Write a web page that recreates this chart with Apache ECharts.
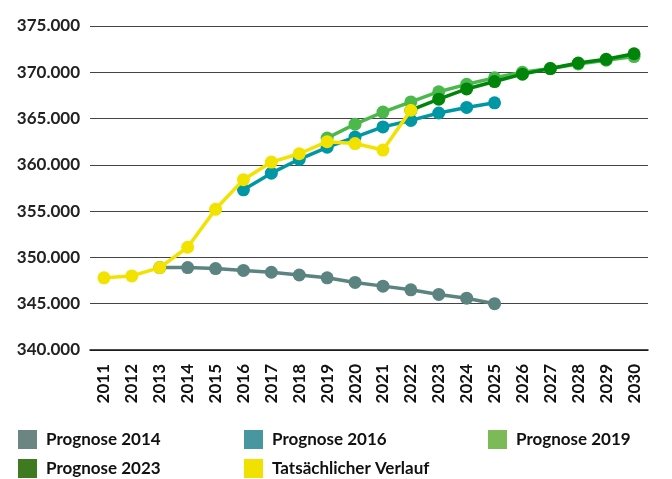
<!DOCTYPE html>
<html>
<head>
<meta charset="utf-8">
<script src="https://cdn.jsdelivr.net/npm/echarts@6/dist/echarts.min.js"></script>
<style>
  html, body { margin: 0; padding: 0; background: #fff; }
  #chart { width: 672px; height: 479px; }
</style>
</head>
<body>
<div id="chart"></div>
<script>
const years = ['2011','2012','2013','2014','2015','2016','2017','2018','2019','2020',
               '2021','2022','2023','2024','2025','2026','2027','2028','2029','2030']

// values in persons, '-' = no value
const prognose2014 = ['-','-',348900,348900,348800,348600,348400,348100,347800,347300,
                      346900,346500,346000,345600,345000,'-','-','-','-','-']
const prognose2016 = ['-','-','-','-','-',357300,359100,360600,361900,363000,
                      364100,364800,365600,366200,366700,'-','-','-','-','-']
const prognose2019 = ['-','-','-','-','-','-','-','-',362900,364400,
                      365700,366800,367900,368700,369400,370000,370400,370900,371300,371700]
const prognose2023 = ['-','-','-','-','-','-','-','-','-','-',
                      '-',365900,367100,368200,369000,369800,370400,371000,371400,372000]
const verlauf = [347800,348000,348900,351100,355200,358400,360300,361200,362500,362300,
                 361600,365900,'-','-','-','-','-','-','-','-']

const font = 'Lato'

function line(name, data, color, z) {
  return {
    name: name,
    type: 'line',
    data: data,
    z: z,
    symbol: 'circle',
    symbolSize: 13,
    showSymbol: true,
    itemStyle: { color: color },
    lineStyle: { color: color, width: 3.5 },
    emphasis: { disabled: true },
    animation: false
  }
}

// one legend block per entry, so each can sit where the original has it
function legend(left, top, name, color) {
  return {
    left: left,
    top: top,
    itemWidth: 19,
    itemHeight: 19,
    icon: 'rect',
    data: [{ name: name, itemStyle: { color: color } }],
    textStyle: { fontFamily: font, fontWeight: 'bold', fontSize: 17, color: '#111', padding: [2, 0, 0, 4] }
  }
}

const chart = echarts.init(document.getElementById('chart'))
chart.setOption({
  animation: false,
  grid: { left: 90, right: 24, top: 26, bottom: 129 },
  legend: [
    legend(13, 425, 'Prognose 2014', '#6b8583'),
    legend(13, 454, 'Prognose 2023', '#3f7a20'),
    legend(239, 425, 'Prognose 2016', '#4896a0'),
    legend(239, 454, 'Tatsächlicher Verlauf', '#f0e100'),
    legend(483, 425, 'Prognose 2019', '#7cba58')
  ],
  xAxis: {
    type: 'category',
    data: years,
    boundaryGap: true,
    axisLine: { lineStyle: { color: '#111', width: 1.5 } },
    axisTick: { inside: true, length: 7, lineStyle: { color: '#111', width: 1.2 } },
    axisLabel: {
      rotate: 90,
      interval: 0,
      margin: 14,
      fontFamily: font,
      fontWeight: 'bold',
      fontSize: 17,
      color: '#111'
    }
  },
  yAxis: {
    type: 'value',
    min: 340000,
    max: 375000,
    interval: 5000,
    axisLine: { show: false },
    axisTick: { show: false },
    splitLine: { lineStyle: { color: '#444', width: 1.2 } },
    axisLabel: {
      margin: 10,
      fontFamily: font,
      fontWeight: 'bold',
      fontSize: 17,
      color: '#222',
      formatter: v => (v / 1000) + '.000'
    }
  },
  series: [
    line('Prognose 2014', prognose2014, '#5b8380', 2),
    line('Prognose 2016', prognose2016, '#0097a5', 3),
    line('Prognose 2019', prognose2019, '#4bb84c', 4),
    line('Prognose 2023', prognose2023, '#00840a', 5),
    line('Tatsächlicher Verlauf', verlauf, '#f2e200', 6)
  ]
})
</script>
</body>
</html>
